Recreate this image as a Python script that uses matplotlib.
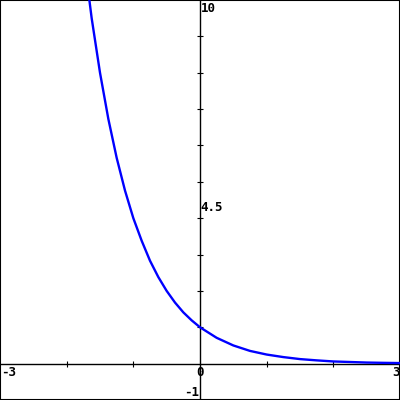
import matplotlib.pyplot as plt
import matplotlib as mpl

# curve points
x_vals = [-1.75, -1.625, -1.5, -1.375, -1.25, -1.125, -1.0, -0.875, -0.75,
          -0.625, -0.5, -0.375, -0.25, -0.125, 0.0, 0.25, 0.5, 0.75,
          1.0, 1.25, 1.5, 1.75, 2.0, 2.25, 2.5, 2.75, 3.0]
y_vals = [11.3, 9.5, 8.0, 6.73, 5.66, 4.76, 4.0, 3.38, 2.83,
          2.38, 2.0, 1.68, 1.41, 1.19, 1.0, 0.71, 0.5, 0.35,
          0.25, 0.18, 0.125, 0.09, 0.06, 0.045, 0.03, 0.022, 0.016]

x_ticks = [-2, -1, 1, 2]
y_ticks = [1, 2, 3, 4, 5, 6, 7, 8, 9]

x_min, x_max = -3, 3
y_min, y_max = -1, 10


def main():
    mpl.rcParams["font.family"] = "DejaVu Sans Mono"
    mpl.rcParams["font.weight"] = "bold"

    fig = plt.figure(figsize=(4, 4), dpi=100)
    ax = fig.add_axes([0, 0, 1, 1])
    ax.set_xlim(x_min, x_max)
    ax.set_ylim(y_min, y_max)
    ax.set_xticks([])
    ax.set_yticks([])
    for s in ax.spines.values():
        s.set_linewidth(1.5)
        s.set_color("black")

    # axes through origin
    ax.axhline(0, color="black", lw=1, zorder=2)
    ax.axvline(0, color="black", lw=1, zorder=2)

    # small crossing ticks
    ax.plot(x_ticks, [0] * len(x_ticks), ls="none", marker="|", ms=4,
            mew=0.8, color="black", zorder=2)
    ax.plot([0] * len(y_ticks), y_ticks, ls="none", marker="_", ms=4,
            mew=0.8, color="black", zorder=2)

    ax.plot(x_vals, y_vals, color="#0000ff", lw=1.7, zorder=3)

    fs = 9
    ax.annotate("10", (0, y_max), xytext=(0.5, -1.5), textcoords="offset points",
                ha="left", va="top", fontsize=fs)
    ax.annotate("4.5", (0, 4.5), xytext=(0, -1), textcoords="offset points",
                ha="left", va="top", fontsize=fs)
    ax.annotate("-3", (x_min, 0), xytext=(0.5, -2), textcoords="offset points",
                ha="left", va="top", fontsize=fs)
    ax.annotate("3", (x_max, 0), xytext=(-0.5, -2), textcoords="offset points",
                ha="right", va="top", fontsize=fs)
    ax.annotate("0", (0, 0), xytext=(0, -2), textcoords="offset points",
                ha="center", va="top", fontsize=fs)
    ax.annotate("-1", (0, y_min), xytext=(-0.5, 1), textcoords="offset points",
                ha="right", va="bottom", fontsize=fs)

    fig.savefig("out.png", dpi=100)


if __name__ == "__main__":
    main()
